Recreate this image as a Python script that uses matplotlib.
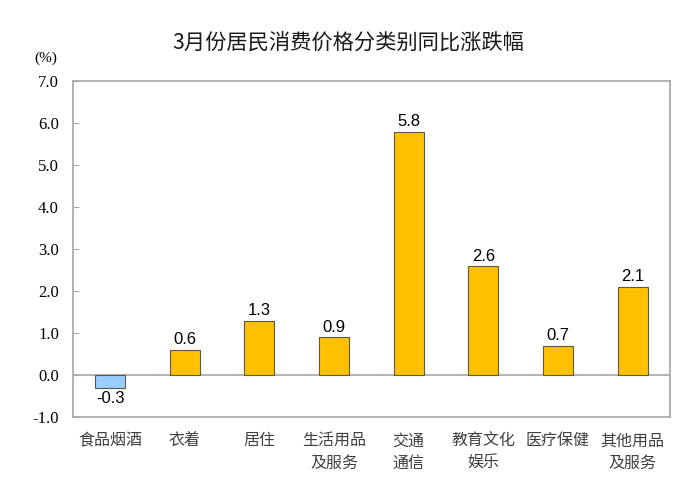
import numpy as np
import matplotlib.pyplot as plt

plt.rcParams['font.family'] = ['Noto Sans CJK SC', 'DejaVu Sans']

title = '3月份居民消费价格分类别同比涨跌幅'
categories = ['食品烟酒', '衣着', '居住', '生活用品\n及服务', '交通\n通信',
              '教育文化\n娱乐', '医疗保健', '其他用品\n及服务']
values = [-0.3, 0.6, 1.3, 0.9, 5.8, 2.6, 0.7, 2.1]
yticks = [-1.0, 0.0, 1.0, 2.0, 3.0, 4.0, 5.0, 6.0, 7.0]

fig = plt.figure(figsize=(7, 5), dpi=100)
ax = fig.add_axes([0.104, 0.166, 0.853, 0.671])

x = np.arange(len(values))
colors = ['#99CCFF' if v < 0 else '#FFC000' for v in values]
ax.bar(x, values, width=0.4, color=colors, edgecolor='#5a5a4a', linewidth=0.8, zorder=3)
ax.axhline(0, color='#a6a6a6', linewidth=1.2, zorder=2)

for xi, v in zip(x, values):
    if v < 0:
        ax.text(xi, v - 0.08, '%.1f' % v, ha='center', va='top', fontsize=12,
                family='Liberation Sans', color='black')
    else:
        ax.text(xi, v + 0.06, '%.1f' % v, ha='center', va='bottom', fontsize=12,
                family='Liberation Sans', color='black')

ax.set_xlim(-0.5, len(values) - 0.5)
ax.set_ylim(-1.0, 7.0)
ax.set_yticks(yticks)
ax.set_yticklabels(['%.1f' % t for t in yticks], family='Liberation Serif', fontsize=12)
ax.tick_params(axis='y', direction='in', length=4, color='#a6a6a6', pad=10)
ax.set_xticks(x)
ax.set_xticklabels(categories, fontsize=11.5, color='#404040', linespacing=1.45, va='top')
ax.tick_params(axis='x', length=0, pad=11)
for s in ax.spines.values():
    s.set_color('#a6a6a6')
    s.set_linewidth(1.2)

fig.text(0.497, 0.915, title, ha='center', va='center', fontsize=15.3, color='#1a1a1a')
fig.text(0.065, 0.884, '(%)', ha='center', va='center', fontsize=11, family='Liberation Serif')

fig.savefig('out.png', dpi=100)
